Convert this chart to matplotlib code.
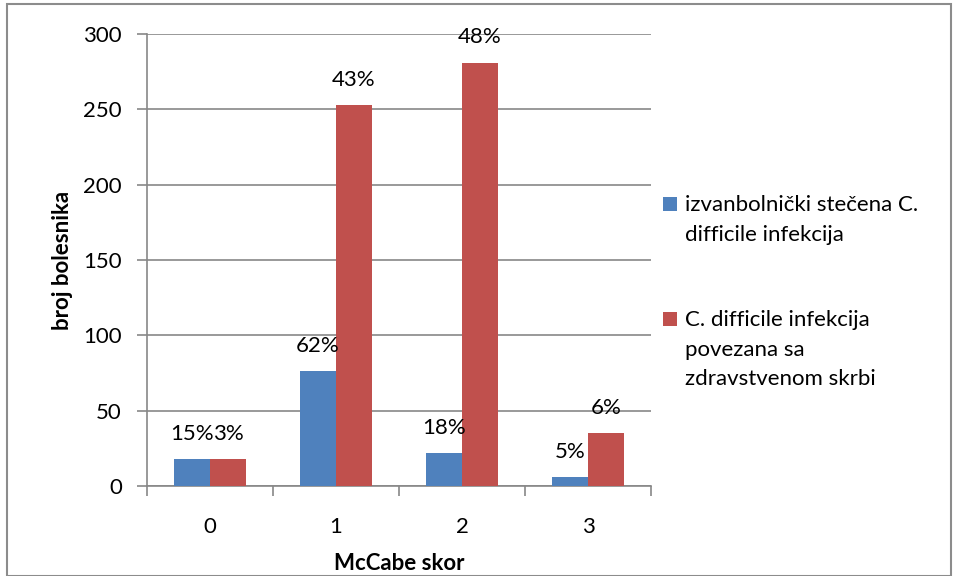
import numpy as np
import matplotlib
matplotlib.use("Agg")
import matplotlib.pyplot as plt
from matplotlib.patches import Rectangle

plt.rcParams['font.family'] = ['Lato', 'DejaVu Sans']

categories = ['0', '1', '2', '3']
community = [18, 76, 22, 6]
healthcare = [18, 253, 281, 35]
community_pct = ['15%', '62%', '18%', '5%']
healthcare_pct = ['3%', '43%', '48%', '6%']
series_names = ['izvanbolnički stečena C.\ndifficile infekcija',
                'C. difficile infekcija\npovezana sa\nzdravstvenom skrbi']

BLUE = '#4F81BD'
RED = '#C0504D'
GRID = '#878787'
FS = 16

W, H = 954, 576
fig = plt.figure(figsize=(W / 100, H / 100), dpi=100)
ax = fig.add_axes([147 / W, 1 - 486 / H, (651 - 147) / W, (486 - 34) / H])

x = np.arange(len(categories))
w = 0.286
b1 = ax.bar(x - w / 2, community, w, color=BLUE, zorder=3)
b2 = ax.bar(x + w / 2, healthcare, w, color=RED, zorder=3)

for bars, labels in ((b1, community_pct), (b2, healthcare_pct)):
    for bar, lab in zip(bars, labels):
        ax.annotate(lab, (bar.get_x() + bar.get_width() / 2, bar.get_height()),
                    xytext=(0, 11), textcoords='offset points',
                    ha='center', va='bottom', fontsize=FS, zorder=5)

ax.set_xlim(-0.5, 3.5)
ax.set_ylim(0, 300)
ax.set_yticks(range(0, 301, 50))
ax.yaxis.grid(True, color=GRID, linewidth=1.2, zorder=0)
ax.set_xticks(x)
ax.set_xticklabels(categories)
ax.set_xticks(np.arange(-0.5, 4, 1), minor=True)
ax.tick_params(axis='x', which='major', length=0, pad=22, labelsize=FS)
ax.tick_params(axis='x', which='minor', length=7, color=GRID, width=1.2)
ax.tick_params(axis='y', length=7, color=GRID, width=1.2, labelsize=FS, pad=11)

for side in ('top', 'right'):
    ax.spines[side].set_visible(False)
for side in ('left', 'bottom'):
    ax.spines[side].set_color(GRID)
    ax.spines[side].set_linewidth(1.2)

ax.set_ylabel('broj bolesnika', fontsize=FS, fontweight='bold')
ax.yaxis.set_label_coords(-0.147, 0.5)
ax.set_xlabel('McCabe skor', fontsize=FS, fontweight='bold', labelpad=12)

# legend, Excel style: square next to the first line of each wrapped label
legend_rows = [(b1, series_names[0], 212), (b2, series_names[1], 327)]
for bars, name, base in legend_rows:
    fig.patches.append(Rectangle((663 / W, 1 - (base - 1) / H), 14 / W, 14 / H,
                                 transform=fig.transFigure,
                                 facecolor=bars.patches[0].get_facecolor(),
                                 edgecolor='none'))
    fig.text(685 / W, 1 - (base - 17) / H, name, fontsize=FS, va='top',
             ha='left', linespacing=1.6, transform=fig.transFigure)

fig.patches.append(Rectangle((0.007, 0.0), 0.99, 0.993, transform=fig.transFigure,
                             fill=False, edgecolor='#8c8c8c', linewidth=1.5))

fig.savefig('out.png', dpi=100)
